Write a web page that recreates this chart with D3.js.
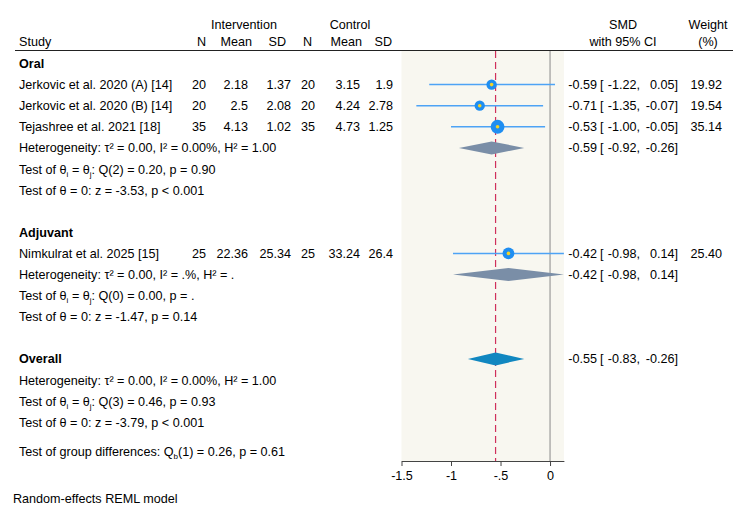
<!DOCTYPE html>
<html>
<head>
<meta charset="utf-8">
<script src="https://cdn.jsdelivr.net/npm/d3@7"></script>
<style>
  body { margin: 0; background: #fff; }
  svg text { font-family: "Liberation Sans", Arial, Helvetica, sans-serif; font-size: 12.6px; fill: #000; }
</style>
</head>
<body>
<div id="chart"></div>
<script>
// study level data
var studies = ["Jerkovic et al. 2020 (A) [14]", "Jerkovic et al. 2020 (B) [14]", "Tejashree et al. 2021 [18]", "Nimkulrat et al. 2025 [15]"];
var studyGroup = ["Oral", "Oral", "Oral", "Adjuvant"];
var intN = [20, 20, 35, 25];
var intMean = ["2.18", "2.5", "4.13", "22.36"];
var intSD = ["1.37", "2.08", "1.02", "25.34"];
var ctlN = [20, 20, 35, 25];
var ctlMean = ["3.15", "4.24", "4.73", "33.24"];
var ctlSD = ["1.9", "2.78", "1.25", "26.4"];
var smd = [-0.59, -0.71, -0.53, -0.42];
var smdLo = [-1.22, -1.35, -1.00, -0.98];
var smdHi = [0.05, -0.07, -0.05, 0.14];
var weight = [19.92, 19.54, 35.14, 25.40];

// subgroup summaries
var groups = ["Oral", "Adjuvant"];
var groupEst = [-0.59, -0.42];
var groupLo = [-0.92, -0.98];
var groupHi = [-0.26, 0.14];
var groupHet = [["0.00", "0.00%", "1.00"], ["0.00", ".%", "."]];
var groupQ = [["2", "0.20", "0.90"], ["0", "0.00", "."]];
var groupZ = [["-3.53", "< 0.001"], ["-1.47", "= 0.14"]];

// overall
var overallEst = -0.55, overallLo = -0.83, overallHi = -0.26;
var overallHet = ["0.00", "0.00%", "1.00"];
var overallQ = ["3", "0.46", "0.93"];
var overallZ = ["-3.79", "< 0.001"];
var groupDiff = ["1", "0.26", "0.61"];

var xTicks = [-1.5, -1, -0.5, 0];
var xTickLabels = ["-1.5", "-1", "-.5", "0"];

var svgWidth = 750;
var svgHeight = 517;

var svg = d3.select("#chart")
  .append("svg")
  .attr("width", svgWidth)
  .attr("height", svgHeight);

var x = d3.scaleLinear()
  .domain([-1.5, 0.14])
  .range([401.5, 563.9]);

var rowTop = 68, rowStep = 21.1;
function rowY(i) { return rowTop + i * rowStep; }

var plotTop = 51, plotBottom = 461;

// shaded plot area
svg.append("rect")
  .attr("x", x(-1.5))
  .attr("y", plotTop)
  .attr("width", x(0.14) - x(-1.5))
  .attr("height", plotBottom - plotTop)
  .attr("fill", "#f8f7f0");

// header
var cols = { study: 19, n1: 206, m1: 248, s1: 291, n2: 315, m2: 360, s2: 393 };
svg.append("text").attr("x", 244).attr("y", 29).attr("text-anchor", "middle").text("Intervention");
svg.append("text").attr("x", 350).attr("y", 29).attr("text-anchor", "middle").text("Control");
svg.append("text").attr("x", cols.study).attr("y", 46).text("Study");
[["N", 206], ["Mean", 252], ["SD", 286], ["N", 312], ["Mean", 362], ["SD", 392]].forEach(function(h) {
  svg.append("text").attr("x", h[1]).attr("y", 46).attr("text-anchor", "end").text(h[0]);
});
svg.append("text").attr("x", 623).attr("y", 29).attr("text-anchor", "middle").text("SMD");
svg.append("text").attr("x", 623).attr("y", 46).attr("text-anchor", "middle").text("with 95% CI");
svg.append("text").attr("x", 708).attr("y", 29).attr("text-anchor", "middle").text("Weight");
svg.append("text").attr("x", 708).attr("y", 46).attr("text-anchor", "middle").text("(%)");

svg.append("line")
  .attr("x1", 15).attr("x2", 733)
  .attr("y1", 50.5).attr("y2", 50.5)
  .attr("stroke", "#222").attr("stroke-width", 1);

// reference lines
svg.append("line")
  .attr("x1", x(0)).attr("x2", x(0))
  .attr("y1", plotTop).attr("y2", plotBottom)
  .attr("stroke", "#8a8a8a").attr("stroke-width", 1);

svg.append("line")
  .attr("x1", x(overallEst)).attr("x2", x(overallEst))
  .attr("y1", plotTop).attr("y2", plotBottom)
  .attr("stroke", "#d0305c").attr("stroke-width", 1.2)
  .attr("stroke-dasharray", "7,4");

function fmt(v) { return d3.format(".2f")(v).replace("\u2212", "-"); }

function ciText(y, est, lo, hi) {
  svg.append("text").attr("x", 597).attr("y", y).attr("text-anchor", "end").text(fmt(est));
  svg.append("text").attr("x", 600).attr("y", y).text("[");
  svg.append("text").attr("x", 640).attr("y", y).attr("text-anchor", "end").text(fmt(lo) + ",");
  svg.append("text").attr("x", 678).attr("y", y).attr("text-anchor", "end").text(fmt(hi) + "]");
}

function diamond(y, est, lo, hi, color) {
  var cy = y - 4.5, h = 6.5;
  svg.append("path")
    .attr("d", "M" + x(lo) + "," + cy + "L" + x(est) + "," + (cy - h) + "L" + x(hi) + "," + cy + "L" + x(est) + "," + (cy + h) + "Z")
    .attr("fill", color);
}

function hetLine(y, v) {
  var t = svg.append("text").attr("x", cols.study).attr("y", y);
  t.text("Heterogeneity: \u03c4\u00b2 = " + v[0] + ", I\u00b2 = " + v[1] + ", H\u00b2 = " + v[2]);
}

function qLine(y, v) {
  var t = svg.append("text").attr("x", cols.study).attr("y", y);
  t.append("tspan").text("Test of \u03b8");
  t.append("tspan").attr("dy", 3).attr("font-size", "8px").text("i");
  t.append("tspan").attr("dy", -3).text(" = \u03b8");
  t.append("tspan").attr("dy", 3).attr("font-size", "8px").text("j");
  t.append("tspan").attr("dy", -3).text(": Q(" + v[0] + ") = " + v[1] + ", p = " + v[2]);
}

function zLine(y, v) {
  svg.append("text").attr("x", cols.study).attr("y", y)
    .text("Test of \u03b8 = 0: z = " + v[0] + ", p " + v[1]);
}

var rScale = d3.scaleSqrt().domain([0, 40]).range([0, 7.4]);

var row = 0;
groups.forEach(function(g, gi) {
  svg.append("text").attr("x", cols.study).attr("y", rowY(row))
    .attr("font-weight", "bold").text(g);
  row++;
  studies.forEach(function(s, i) {
    if (studyGroup[i] !== g) return;
    var y = rowY(row);
    svg.append("text").attr("x", cols.study).attr("y", y).text(s);
    [[intN[i], cols.n1], [intMean[i], cols.m1], [intSD[i], cols.s1],
     [ctlN[i], cols.n2], [ctlMean[i], cols.m2], [ctlSD[i], cols.s2]].forEach(function(c) {
      svg.append("text").attr("x", c[1]).attr("y", y).attr("text-anchor", "end").text(c[0]);
    });
    var cy = y - 4.5;
    svg.append("line")
      .attr("x1", x(smdLo[i])).attr("x2", x(smdHi[i]))
      .attr("y1", cy).attr("y2", cy)
      .attr("stroke", "#4da3f5").attr("stroke-width", 1.5);
    svg.append("circle")
      .attr("cx", x(smd[i])).attr("cy", cy)
      .attr("r", rScale(weight[i]))
      .attr("fill", "#1f8ef1");
    svg.append("circle")
      .attr("cx", x(smd[i])).attr("cy", cy)
      .attr("r", 1.8)
      .attr("fill", "#f5d327");
    ciText(y, smd[i], smdLo[i], smdHi[i]);
    svg.append("text").attr("x", 722).attr("y", y).attr("text-anchor", "end").text(fmt(weight[i]));
    row++;
  });
  hetLine(rowY(row), groupHet[gi]);
  diamond(rowY(row), groupEst[gi], groupLo[gi], groupHi[gi], "#7a8ea7");
  ciText(rowY(row), groupEst[gi], groupLo[gi], groupHi[gi]);
  row++;
  qLine(rowY(row), groupQ[gi]);
  row++;
  zLine(rowY(row), groupZ[gi]);
  row += 2;
});

svg.append("text").attr("x", cols.study).attr("y", rowY(row))
  .attr("font-weight", "bold").text("Overall");
diamond(rowY(row), overallEst, overallLo, overallHi, "#1187c0");
ciText(rowY(row), overallEst, overallLo, overallHi);
row++;
hetLine(rowY(row), overallHet);
row++;
qLine(rowY(row), overallQ);
row++;
zLine(rowY(row), overallZ);
row++;

var gd = svg.append("text").attr("x", cols.study).attr("y", rowY(row) + 8);
gd.append("tspan").text("Test of group differences: Q");
gd.append("tspan").attr("dy", 3).attr("font-size", "8px").text("b");
gd.append("tspan").attr("dy", -3).text("(" + groupDiff[0] + ") = " + groupDiff[1] + ", p = " + groupDiff[2]);

// x axis
var xAxis = d3.axisBottom(x)
  .tickValues(xTicks)
  .tickFormat(function(d, i) { return xTickLabels[i]; })
  .tickSize(5)
  .tickSizeOuter(0);

var axisG = svg.append("g")
  .attr("transform", "translate(0," + plotBottom + ")")
  .call(xAxis);
axisG.select(".domain").attr("stroke", "#444");
axisG.selectAll(".tick line").attr("stroke", "#444");
axisG.selectAll(".tick text")
  .attr("y", 10)
  .style("font-size", "12.6px")
  .style("font-family", "'Liberation Sans', Arial, sans-serif")
  .attr("fill", "#000");

svg.append("text").attr("x", 13).attr("y", 503).text("Random-effects REML model");
</script>
</body>
</html>
